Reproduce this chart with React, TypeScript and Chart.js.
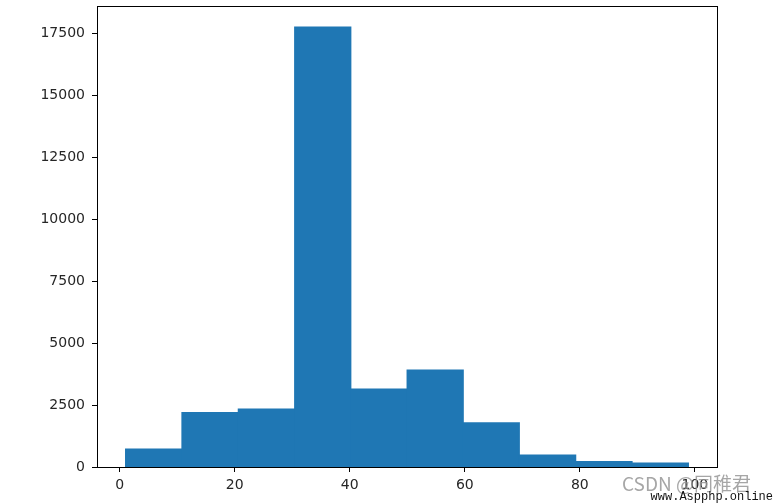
import React, { useEffect, useRef } from "react";
import { Chart, registerables } from "chart.js";

Chart.register(...registerables);

const binEdges = [1.0, 10.8, 20.6, 30.4, 40.2, 50.0, 59.7, 69.5, 79.3, 89.1, 98.9];
const counts = [725, 2190, 2340, 17750, 3145, 3910, 1785, 480, 215, 160];
const xTickValues = [0, 20, 40, 60, 80, 100];
const yTickValues = [0, 2500, 5000, 7500, 10000, 12500, 15000, 17500];
const watermark = "CSDN @同稚君";
const watermark2 = "www.Aspphp.online";

const frame = {
  id: "frame",
  afterDatasetsDraw(chart: any) {
    const { ctx, chartArea } = chart;
    ctx.save();
    ctx.strokeStyle = "#000";
    ctx.lineWidth = 1;
    ctx.strokeRect(
      Math.round(chartArea.left) + 0.5,
      Math.round(chartArea.top) + 0.5,
      Math.round(chartArea.right - chartArea.left),
      Math.round(chartArea.bottom - chartArea.top)
    );
    ctx.restore();
  },
  afterDraw(chart: any) {
    const { ctx } = chart;
    ctx.save();
    ctx.fillStyle = "rgba(150,150,150,0.85)";
    ctx.font = "19px 'Noto Sans CJK SC', 'DejaVu Sans', sans-serif";
    ctx.textBaseline = "middle";
    ctx.textAlign = "left";
    ctx.fillText(watermark, 622, 484);
    ctx.fillStyle = "#111";
    ctx.font = "12px 'Liberation Mono', 'DejaVu Sans Mono', monospace";
    ctx.textAlign = "right";
    ctx.fillText(watermark2, 773, 497);
    ctx.restore();
  },
};

export default function App() {
  const ref = useRef<HTMLCanvasElement | null>(null);
  useEffect(() => {
    document.body.style.margin = "0";
    const centers = counts.map((_, i) => (binEdges[i] + binEdges[i + 1]) / 2);
    const chart = new Chart(ref.current as HTMLCanvasElement, {
      type: "bar",
      data: {
        datasets: [
          {
            data: centers.map((x, i) => ({ x, y: counts[i] })),
            backgroundColor: "#1f77b4",
            borderWidth: 0,
            inflateAmount: 0.6,
            barPercentage: 1.0,
            categoryPercentage: 1.0,
          },
        ],
      },
      options: {
        animation: false,
        responsive: false,
        maintainAspectRatio: false,
        layout: { padding: { left: 0, top: 6, right: 57, bottom: 0 } },
        plugins: { legend: { display: false }, tooltip: { enabled: false } },
        scales: {
          x: {
            type: "linear",
            offset: false,
            min: -3.95,
            max: 103.85,
            grid: { offset: false, drawOnChartArea: false, drawTicks: true, tickLength: 5, color: "#000" },
            border: { color: "#000", width: 1 },
            ticks: { color: "#262626", font: { family: "'DejaVu Sans'", size: 14 }, padding: 5, maxRotation: 0 },
            afterBuildTicks: (s: any) => {
              s.ticks = xTickValues.map((v) => ({ value: v }));
            },
            afterFit: (s: any) => {
              s.height = 37;
              s.paddingLeft = 0;
              s.paddingRight = 0;
            },
          },
          y: {
            type: "linear",
            min: 0,
            max: 18600,
            grid: { drawOnChartArea: false, drawTicks: true, tickLength: 5, color: "#000" },
            border: { color: "#000", width: 1 },
            ticks: {
              color: "#262626",
              font: { family: "'DejaVu Sans'", size: 14 },
              padding: 7,
              callback: (v: any) => String(v),
            },
            afterBuildTicks: (s: any) => {
              s.ticks = yTickValues.map((v) => ({ value: v }));
            },
            afterFit: (s: any) => {
              s.width = 97;
              s.paddingTop = 0;
              s.paddingBottom = 0;
            },
          },
        },
      },
      plugins: [frame],
    });
    return () => chart.destroy();
  }, []);
  return (
    <div style={{ width: 774, height: 504 }}>
      <canvas ref={ref} width={774} height={504} style={{ display: "block" }} />
    </div>
  );
}
